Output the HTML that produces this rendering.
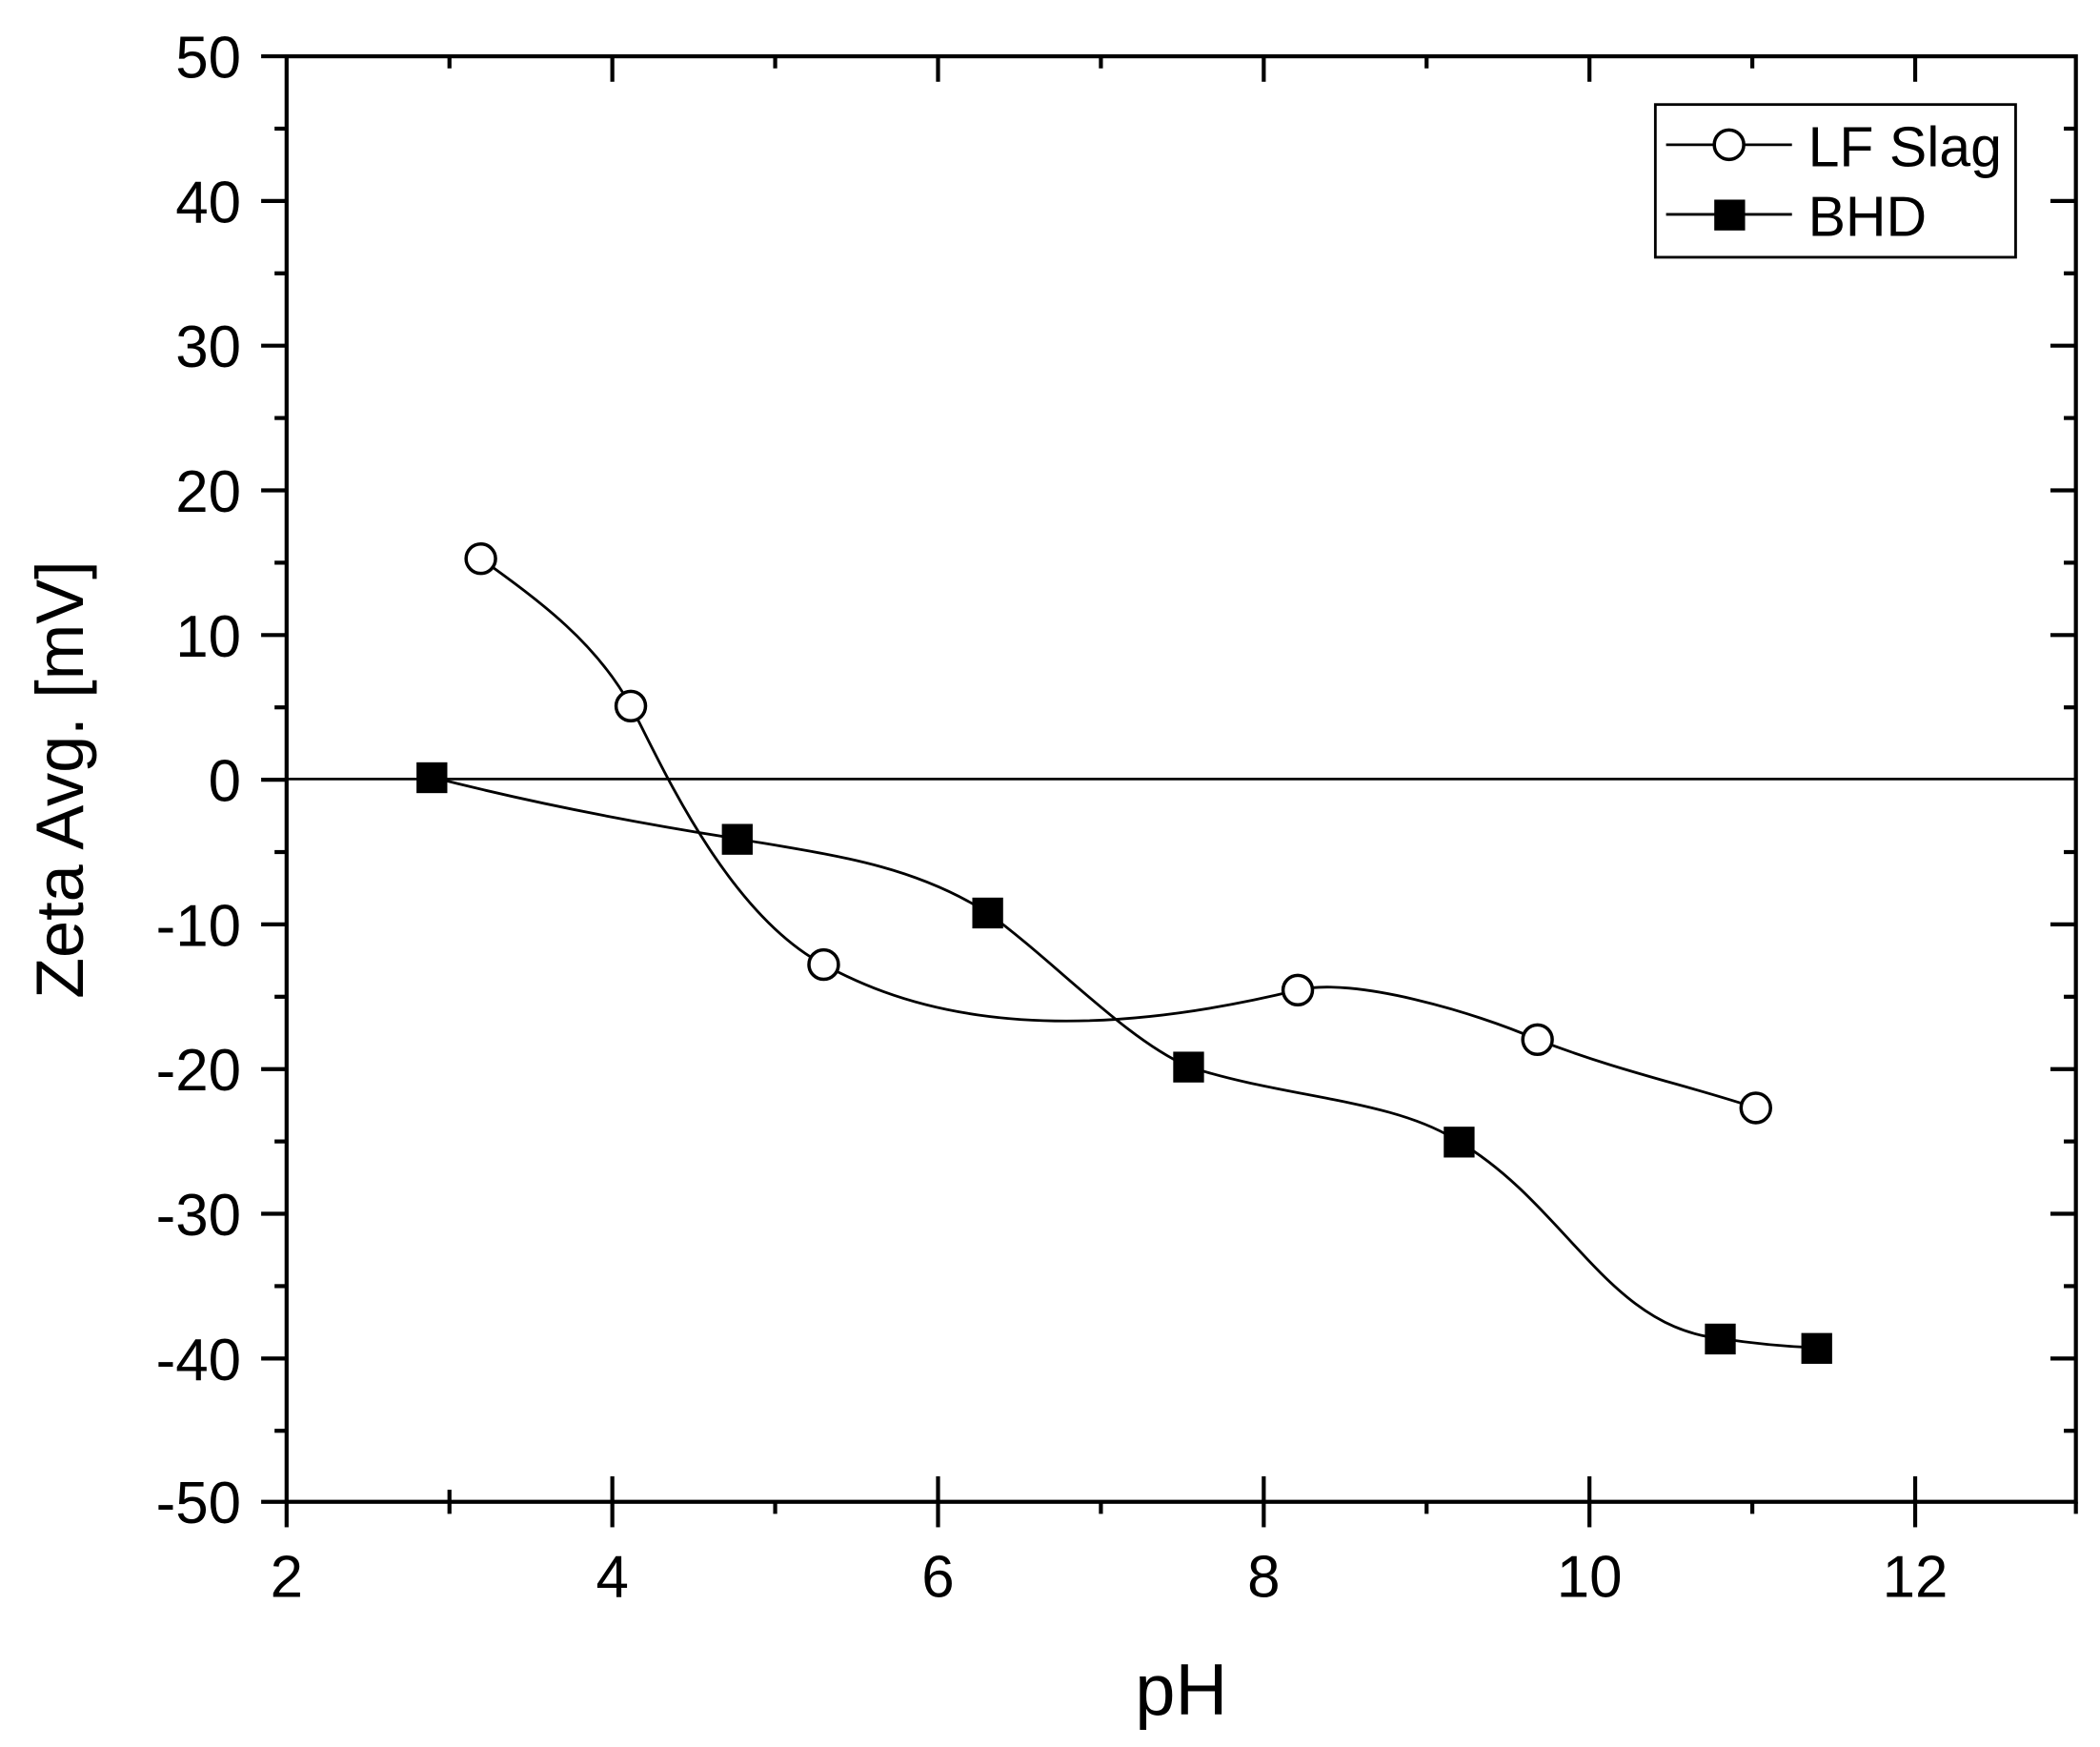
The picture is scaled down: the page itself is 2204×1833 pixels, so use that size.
<!DOCTYPE html>
<html><head><style>html,body{margin:0;padding:0;background:#fff}svg{display:block}</style></head>
<body>
<svg width="2204" height="1833" viewBox="0 0 1568 1304" xmlns="http://www.w3.org/2000/svg" font-family="Liberation Sans, Arial, sans-serif">
<rect width="1568" height="1304" fill="#fff"/>
<g stroke="#000" stroke-width="3" fill="none">
<rect x="214" y="42" width="1336" height="1079"/>
<line x1="214" y1="581.5" x2="1550" y2="581.5" stroke-width="2"/>
</g>
<g stroke="#000" stroke-width="3">
<line x1="214" y1="1121" x2="214" y2="1140"/><line x1="335.6" y1="1121" x2="335.6" y2="1130"/>
<line x1="457.2" y1="1121" x2="457.2" y2="1140"/><line x1="578.8" y1="1121" x2="578.8" y2="1130"/>
<line x1="700.4" y1="1121" x2="700.4" y2="1140"/><line x1="822" y1="1121" x2="822" y2="1130"/>
<line x1="943.6" y1="1121" x2="943.6" y2="1140"/><line x1="1065.2" y1="1121" x2="1065.2" y2="1130"/>
<line x1="1186.8" y1="1121" x2="1186.8" y2="1140"/><line x1="1308.4" y1="1121" x2="1308.4" y2="1130"/>
<line x1="1430" y1="1121" x2="1430" y2="1140"/><line x1="1550" y1="1121" x2="1550" y2="1130"/>
</g>
<g stroke="#000" stroke-width="3">
<line x1="195" y1="42" x2="214" y2="42"/><line x1="205" y1="96" x2="214" y2="96"/>
<line x1="195" y1="150" x2="214" y2="150"/><line x1="205" y1="204" x2="214" y2="204"/>
<line x1="195" y1="258" x2="214" y2="258"/><line x1="205" y1="312" x2="214" y2="312"/>
<line x1="195" y1="366" x2="214" y2="366"/><line x1="205" y1="420" x2="214" y2="420"/>
<line x1="195" y1="474" x2="214" y2="474"/><line x1="205" y1="528" x2="214" y2="528"/>
<line x1="195" y1="582" x2="214" y2="582"/><line x1="205" y1="636" x2="214" y2="636"/>
<line x1="195" y1="690" x2="214" y2="690"/><line x1="205" y1="744" x2="214" y2="744"/>
<line x1="195" y1="798" x2="214" y2="798"/><line x1="205" y1="852" x2="214" y2="852"/>
<line x1="195" y1="906" x2="214" y2="906"/><line x1="205" y1="960" x2="214" y2="960"/>
<line x1="195" y1="1014" x2="214" y2="1014"/><line x1="205" y1="1068" x2="214" y2="1068"/>
<line x1="195" y1="1121" x2="214" y2="1121"/>
</g>
<g stroke="#000" stroke-width="3">
<line x1="1531" y1="150" x2="1550" y2="150"/><line x1="1541" y1="96" x2="1550" y2="96"/>
<line x1="1531" y1="258" x2="1550" y2="258"/><line x1="1541" y1="204" x2="1550" y2="204"/>
<line x1="1531" y1="366" x2="1550" y2="366"/><line x1="1541" y1="312" x2="1550" y2="312"/>
<line x1="1531" y1="474" x2="1550" y2="474"/><line x1="1541" y1="420" x2="1550" y2="420"/>
<line x1="1541" y1="528" x2="1550" y2="528"/><line x1="1541" y1="636" x2="1550" y2="636"/>
<line x1="1531" y1="690" x2="1550" y2="690"/><line x1="1541" y1="744" x2="1550" y2="744"/>
<line x1="1531" y1="798" x2="1550" y2="798"/><line x1="1541" y1="852" x2="1550" y2="852"/>
<line x1="1531" y1="906" x2="1550" y2="906"/><line x1="1541" y1="960" x2="1550" y2="960"/>
<line x1="1531" y1="1014" x2="1550" y2="1014"/><line x1="1541" y1="1068" x2="1550" y2="1068"/>
<line x1="335.6" y1="1121" x2="335.6" y2="1112"/><line x1="457.2" y1="1121" x2="457.2" y2="1102"/>
<line x1="700.4" y1="1121" x2="700.4" y2="1102"/><line x1="943.6" y1="1121" x2="943.6" y2="1102"/>
<line x1="1186.8" y1="1121" x2="1186.8" y2="1102"/><line x1="1430" y1="1121" x2="1430" y2="1102"/>
<line x1="335.6" y1="42" x2="335.6" y2="51"/><line x1="457.2" y1="42" x2="457.2" y2="61"/>
<line x1="578.8" y1="42" x2="578.8" y2="51"/><line x1="700.4" y1="42" x2="700.4" y2="61"/>
<line x1="822" y1="42" x2="822" y2="51"/><line x1="943.6" y1="42" x2="943.6" y2="61"/>
<line x1="1065.2" y1="42" x2="1065.2" y2="51"/><line x1="1186.8" y1="42" x2="1186.8" y2="61"/>
<line x1="1308.4" y1="42" x2="1308.4" y2="51"/><line x1="1430" y1="42" x2="1430" y2="61"/>
</g>
<g font-size="44" fill="#000" text-anchor="end">
<text x="180" y="58">50</text><text x="180" y="166">40</text><text x="180" y="274">30</text>
<text x="180" y="382">20</text><text x="180" y="490">10</text><text x="180" y="598">0</text>
<text x="180" y="706">-10</text><text x="180" y="814">-20</text><text x="180" y="922">-30</text>
<text x="180" y="1030">-40</text><text x="180" y="1137">-50</text>
</g>
<g font-size="44" fill="#000" text-anchor="middle">
<text x="214" y="1192">2</text><text x="457.2" y="1192">4</text><text x="700.4" y="1192">6</text>
<text x="943.6" y="1192">8</text><text x="1186.8" y="1192">10</text><text x="1430" y="1192">12</text>
</g>
<text x="882" y="1280" font-size="54" text-anchor="middle">pH</text>
<text transform="translate(62,582) rotate(-90)" font-size="50" text-anchor="middle">Zeta Avg. [mV]</text>
<g fill="none" stroke="#000" stroke-width="2">
<path d="M359,417 C405,450 445,480 471,527 C490,562 540,680 615,720 C660,744 760,790 969,739 C1010,729 1100,755 1148,776 C1210,800 1260,810 1311,827"/>
<path d="M322,580 C400,600 480,615 550,626 C620,638 680,645 737,681 C790,720 840,775 887,796 C960,820 1040,820 1089,852 C1170,900 1200,990 1284,999 C1310,1003 1330,1005 1356,1006"/>
</g>
<g fill="#fff" stroke="#000" stroke-width="2.5">
<circle cx="359" cy="417" r="11"/><circle cx="471" cy="527" r="11"/><circle cx="615" cy="720" r="11"/>
<circle cx="969" cy="739" r="11"/><circle cx="1148" cy="776" r="11"/><circle cx="1311" cy="827" r="11"/>
</g>
<g fill="#000">
<rect x="311" y="569" width="23" height="23"/><rect x="539" y="615" width="23" height="23"/>
<rect x="726" y="670" width="23" height="23"/><rect x="876" y="785" width="23" height="23"/>
<rect x="1078" y="841" width="23" height="23"/><rect x="1273" y="988" width="23" height="23"/>
<rect x="1345" y="995" width="23" height="23"/>
</g>
<rect x="1236" y="78" width="269" height="114" fill="#fff" stroke="#000" stroke-width="2"/>
<line x1="1244" y1="108" x2="1338" y2="108" stroke="#000" stroke-width="2"/>
<circle cx="1291" cy="108" r="11" fill="#fff" stroke="#000" stroke-width="2.5"/>
<line x1="1244" y1="160" x2="1338" y2="160" stroke="#000" stroke-width="2"/>
<rect x="1280" y="149" width="23" height="23" fill="#000"/>
<text x="1350" y="124" font-size="42">LF Slag</text>
<text x="1350" y="176" font-size="42">BHD</text>
</svg>
</body></html>
